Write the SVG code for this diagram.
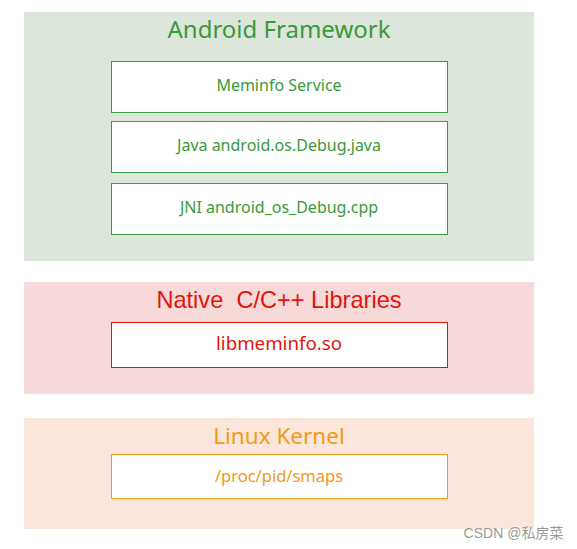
<svg xmlns="http://www.w3.org/2000/svg" width="577" height="549" viewBox="0 0 577 549">
<style>
.g{fill:#3a9a3a}.r{fill:#e3140c}.o{fill:#f29a12}
text{font-family:"Noto Sans","Open Sans",sans-serif;text-anchor:middle}
text.ar{font-family:"Liberation Sans",Arial,sans-serif}
text.wm{font-family:"Liberation Sans","Noto Sans CJK SC",sans-serif;fill:#999}
.box{fill:#fff;stroke-width:1}
</style>
<rect width="577" height="549" fill="#fff"/>
<g id="android-framework">
<rect x="24" y="12" width="510" height="249" fill="#dce6da"/>
<text x="279" y="38" font-size="24" class="g">Android Framework</text>
</g>
<g id="meminfo-service">
<rect x="111.5" y="61.5" width="336" height="51" class="box" stroke="#3a9a3a"/>
<text x="279" y="91" font-size="16" class="g">Meminfo Service</text>
</g>
<g id="java-debug">
<rect x="111.5" y="121.5" width="336" height="51" class="box" stroke="#3a9a3a"/>
<text x="279" y="151" font-size="16" class="g">Java android.os.Debug.java</text>
</g>
<g id="jni-debug">
<rect x="111.5" y="183.5" width="336" height="51" class="box" stroke="#3a9a3a"/>
<text x="279" y="213" font-size="16" class="g">JNI android_os_Debug.cpp</text>
</g>
<g id="native-libs">
<rect x="24" y="282" width="510" height="112" fill="#f8d9d9"/>
<text x="279" y="308" font-size="23.6" class="r ar" xml:space="preserve">Native  C/C++ Libraries</text>
</g>
<g id="libmeminfo">
<rect x="111.5" y="322.5" width="336" height="45" class="box" stroke="#e3140c"/>
<text x="279" y="350" font-size="18.7" class="r">libmeminfo.so</text>
</g>
<g id="linux-kernel">
<rect x="24" y="418" width="510" height="111" fill="#fae6da"/>
<text x="279" y="444" font-size="22.5" class="o">Linux Kernel</text>
</g>
<g id="smaps">
<rect x="111.5" y="454.5" width="336" height="44" class="box" stroke="#f29a12"/>
<text x="279" y="482" font-size="16.5" class="o">/proc/pid/smaps</text>
</g>
<g id="connectors"></g>
<text x="513.5" y="538" font-size="14" class="wm">CSDN @私房菜</text>
</svg>
